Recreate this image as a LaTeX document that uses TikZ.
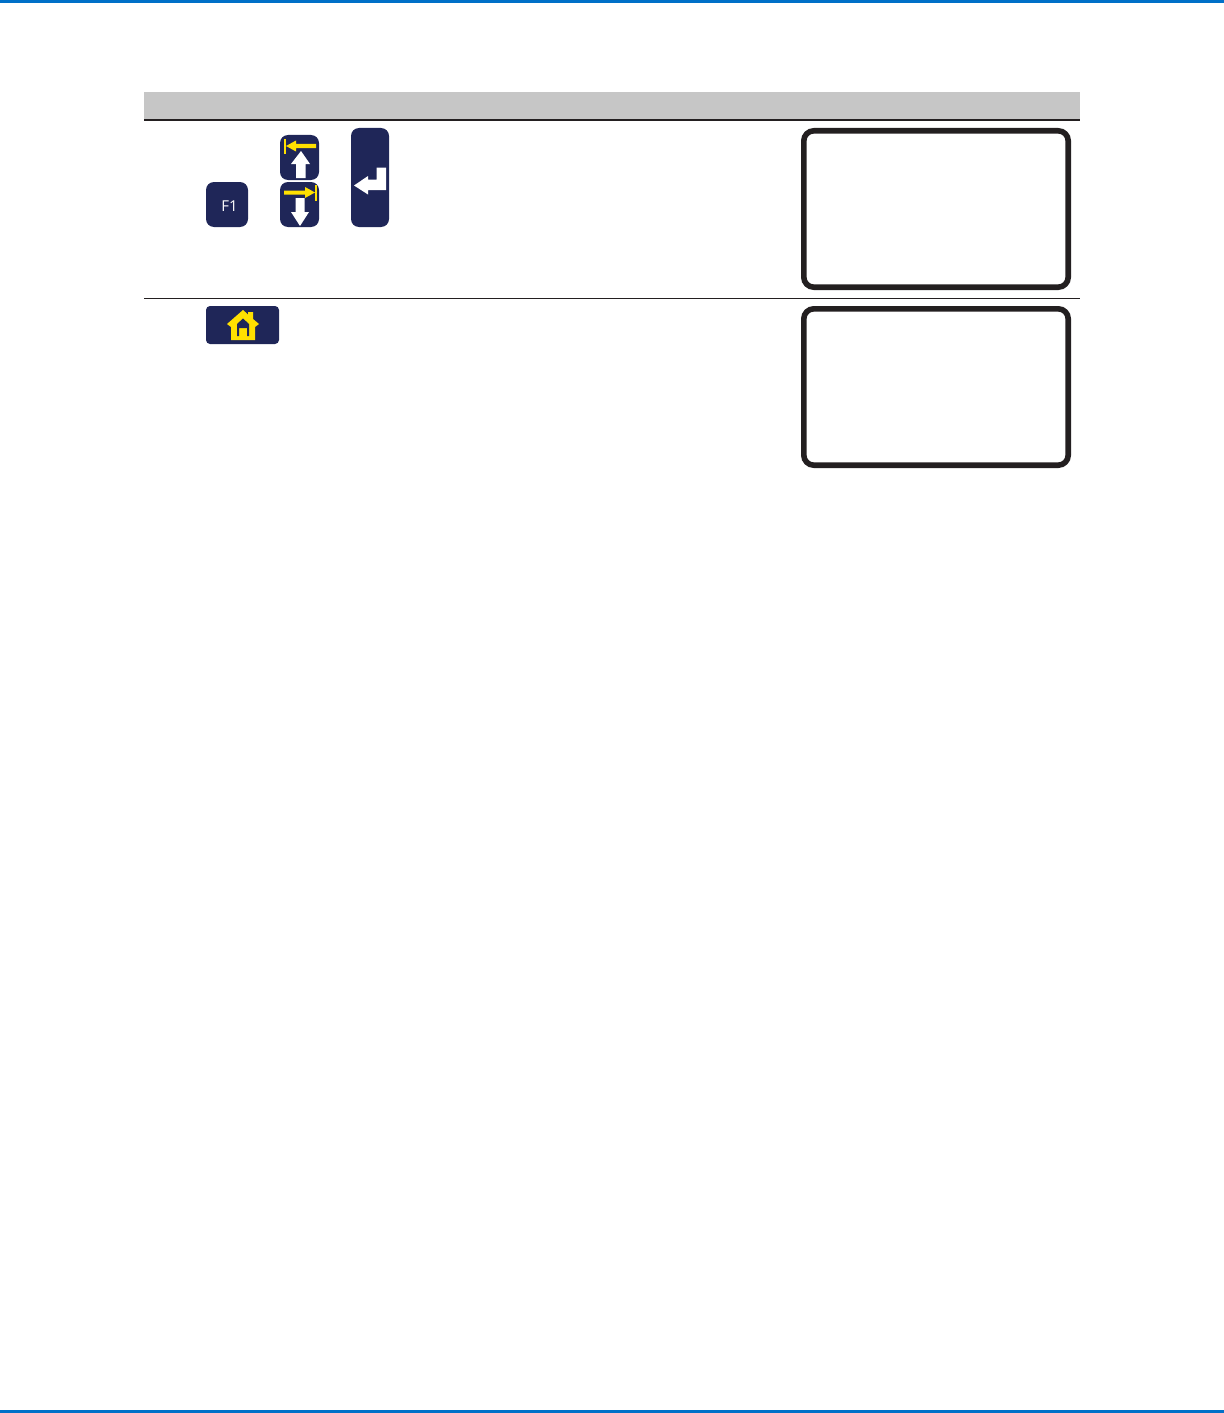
\documentclass[tikz,border=0pt]{standalone}
\usepackage{xcolor}
\usepackage{fontspec}
\setsansfont{Open Sans}
\definecolor{keycolor}{RGB}{31, 38, 88}
\definecolor{markcolor}{RGB}{255, 224, 0}
\definecolor{bandcolor}{RGB}{0, 112, 200}
\definecolor{headcolor}{RGB}{198, 198, 198}
\definecolor{inkcolor}{RGB}{35, 31, 32}
\usetikzlibrary{positioning}

\begin{document}
\begin{tikzpicture}[x=0.5pt, y=-0.5pt,
    band/.style={rectangle, fill=bandcolor, inner sep=0pt, minimum width=612pt, minimum height=1.5pt},
    keybox/.style={rectangle, fill=keycolor, rounded corners=4pt, inner sep=0pt, text=white},
    display/.style={rectangle, draw=inkcolor, line width=2.8pt, rounded corners=5pt, inner sep=0pt, minimum width=132.2pt, minimum height=78.2pt},
    rule/.style={draw=inkcolor},
    whitemark/.style={fill=white},
    yellowmark/.style={fill=markcolor}
]
    \useasboundingbox (0, 0) rectangle (1224, 1413);

    % Page bands
    \node[band] (topband) at (612, 1.5) {};
    \node[band] (bottomband) at (612, 1411.5) {};

    % Table head and rules
    \node[rectangle, fill=headcolor, inner sep=0pt, minimum width=468pt, minimum height=14pt] (head) at (612, 106) {};
    \draw[rule, line width=1pt] (144, 120) -- (1080, 120);
    \draw[rule, line width=0.5pt] (144, 298.5) -- (1080, 298.5);

    % Keys
    \node[keybox, minimum width=21pt, minimum height=22.5pt] (f1) at (227, 204.5) {};
    \node[text=white, inner sep=0pt, font=\sffamily\fontsize{7.5}{8}\selectfont] (f1label) at (229.5, 206) {F1};
    \node[keybox, minimum width=19.5pt, minimum height=22.5pt] (up) at (299.5, 157.5) {};
    \node[keybox, minimum width=19.5pt, minimum height=22.5pt] (down) at (299.5, 204.5) {};
    \node[keybox, minimum width=19pt, minimum height=49.5pt] (enter) at (370, 177.5) {};
    \node[keybox, rounded corners=2pt, minimum width=36.5pt, minimum height=19pt] (home) at (242.5, 325) {};

    % Up key
    \fill[whitemark] (301, 151) -- (310, 164) -- (305.5, 164) -- (305.5, 178) -- (296, 178) -- (296, 164) -- (291, 164) -- cycle;
    \fill[yellowmark] (283.5, 139) rectangle (286, 154);
    \fill[yellowmark] (286, 146) -- (296, 140.5) -- (296, 144) -- (316, 144) -- (316, 148) -- (296, 148) -- (296, 151.5) -- cycle;

    % Down key
    \fill[whitemark] (300, 226) -- (309, 212) -- (304.5, 212) -- (304.5, 198) -- (295.5, 198) -- (295.5, 212) -- (291, 212) -- cycle;
    \fill[yellowmark] (314.5, 185) rectangle (317, 200.5);
    \fill[yellowmark] (315, 192.5) -- (305, 187) -- (305, 190.5) -- (284, 190.5) -- (284, 194.5) -- (305, 194.5) -- (305, 198) -- cycle;

    % Enter key
    \fill[whitemark] (354, 185.5) -- (368, 176) -- (368, 179.5) -- (376.5, 179.5) -- (376.5, 167.5) -- (386, 167.5) -- (386, 190) -- (368, 190) -- (368, 194.5) -- cycle;

    % Home key
    \fill[yellowmark] (227, 324) -- (243, 310) -- (248, 314.5) -- (248, 312) -- (253, 312) -- (253, 319) -- (259, 324) -- (255, 327) -- (255, 340) -- (231, 340) -- (231, 327) -- cycle;
    \fill[keycolor] (237, 336) -- (237, 324) -- (243, 318.5) -- (249, 324) -- (249, 336) -- (247, 336) -- (247, 328) -- (239, 328) -- (239, 336) -- cycle;

    % Displays
    \node[display] (screen1) at (936, 209) {};
    \node[display] (screen2) at (936, 387) {};
\end{tikzpicture}
\end{document}
